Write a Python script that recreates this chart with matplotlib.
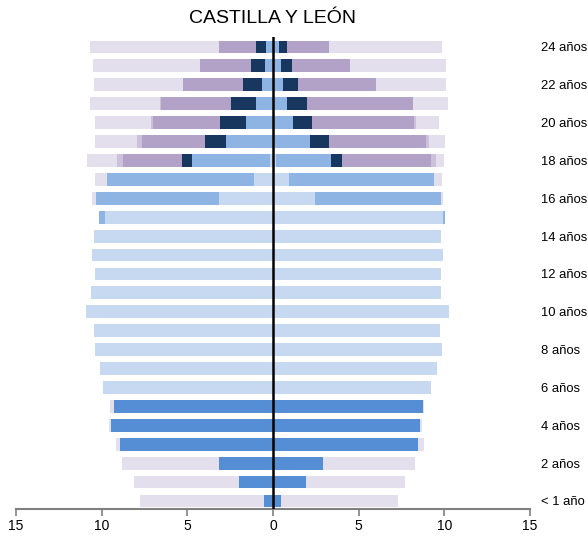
import numpy as np
import matplotlib.pyplot as plt

ages = list(range(25))
age_labels = {0: '< 1 año', 2: '2 años', 4: '4 años', 6: '6 años', 8: '8 años',
              10: '10 años', 12: '12 años', 14: '14 años', 16: '16 años',
              18: '18 años', 20: '20 años', 22: '22 años', 24: '24 años'}

# left half of the pyramid, ages 0..24 (stacked from the centre outwards)
infantil_l = [0.55, 1.98, 3.18, 8.95, 9.44, 9.26] + [0] * 19
primaria_l = [0] * 6 + [9.91, 10.08, 10.36, 10.45, 10.92, 10.61, 10.37, 10.59, 10.43,
                        9.79, 3.18, 1.13, 0.20] + [0] * 6
eso_l = [0] * 15 + [0.39, 7.14, 8.56, 4.50, 2.73, 1.56, 0.97, 0.64, 0.49, 0.39]
fp_l = [0] * 18 + [0.62, 1.23, 1.56, 1.48, 1.11, 0.78, 0.58]
univ_l = [0] * 18 + [3.44, 3.70, 3.89, 4.07, 3.53, 2.98, 2.20]
otros_l = [0] * 18 + [0.35, 0.26, 0.10, 0.06, 0, 0, 0]
no_estudia_l = [7.24, 6.11, 5.64, 0.21, 0.16, 0.23] + [0] * 10 + \
               [0.22, 0.68, 1.75, 2.47, 3.27, 4.09, 5.14, 6.26, 7.49]

# right half
infantil_r = [0.48, 1.90, 2.94, 8.48, 8.56, 8.76] + [0] * 19
primaria_r = [0] * 6 + [9.20, 9.57, 9.84, 9.77, 10.29, 9.79, 9.83, 9.94, 9.83,
                        9.92, 2.43, 0.91, 0.15] + [0] * 6
eso_r = [0] * 15 + [0.09, 7.40, 8.46, 3.25, 2.14, 1.19, 0.79, 0.58, 0.48, 0.37]
fp_r = [0] * 18 + [0.60, 1.11, 1.11, 1.17, 0.88, 0.64, 0.47]
univ_r = [0] * 18 + [5.24, 5.65, 5.90, 6.19, 4.53, 3.35, 2.41]
otros_r = [0] * 18 + [0.25, 0.23, 0.12, 0, 0, 0, 0]
no_estudia_r = [6.83, 5.82, 5.33, 0.31, 0.14, 0.05] + [0] * 10 + \
               [0.10, 0.49, 0.48, 0.89, 1.38, 2.07, 4.09, 5.60, 6.62]

colors = ['#558ED5', '#C6D9F1', '#8DB4E2', '#17375E', '#B3A2C7', '#CCC0DA', '#E4DFEC']
left_series = [infantil_l, primaria_l, eso_l, fp_l, univ_l, otros_l, no_estudia_l]
right_series = [infantil_r, primaria_r, eso_r, fp_r, univ_r, otros_r, no_estudia_r]

plt.rcParams['font.family'] = ['Liberation Sans', 'DejaVu Sans']

fig = plt.figure(figsize=(5.88, 5.38), dpi=100)
ax = fig.add_axes([0.0272, 0.053, 0.8742, 0.879])

y = np.array(ages)
h = 0.68
cum_l = np.zeros(len(ages))
cum_r = np.zeros(len(ages))
for vals_l, vals_r, c in zip(left_series, right_series, colors):
    vl = np.array(vals_l)
    vr = np.array(vals_r)
    ax.barh(y, -vl, left=-cum_l, height=h, color=c, edgecolor='none')
    ax.barh(y, vr, left=cum_r, height=h, color=c, edgecolor='none')
    cum_l += vl
    cum_r += vr

ax.axvline(0, color='black', linewidth=1.8, zorder=5)

ax.set_xlim(-15, 15)
ax.set_ylim(-0.45, 24.55)
ax.set_xticks([-15, -10, -5, 0, 5, 10, 15])
ax.set_xticklabels(['15', '10', '5', '0', '5', '10', '15'], fontsize=10)
ax.tick_params(axis='x', colors='#808080', length=5, width=1.2, labelcolor='black', pad=2)

ax.yaxis.tick_right()
ax.set_yticks(list(age_labels.keys()))
ax.set_yticklabels(list(age_labels.values()), fontsize=9.4)
ax.tick_params(axis='y', length=0, pad=8)

for side in ['top', 'left', 'right']:
    ax.spines[side].set_visible(False)
ax.spines['bottom'].set_color('#808080')
ax.spines['bottom'].set_linewidth(1.5)

fig.text(0.4638, 0.965, 'CASTILLA Y LEÓN', ha='center', va='center', fontsize=14)

fig.savefig('out.png', dpi=100)
